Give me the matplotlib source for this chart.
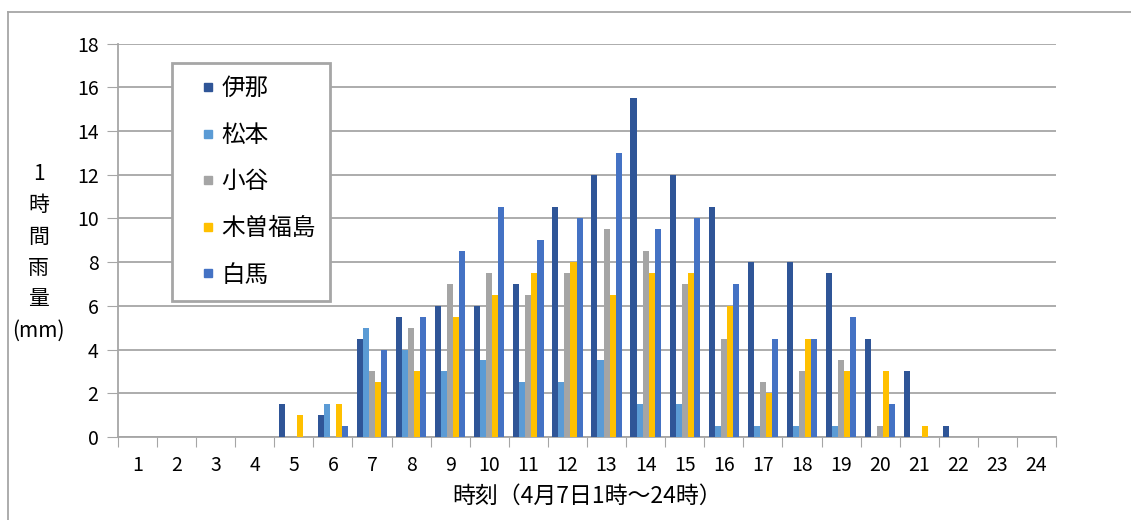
import numpy as np
import matplotlib.pyplot as plt
from matplotlib.lines import Line2D

plt.rcParams['font.family'] = ['Noto Sans CJK JP', 'DejaVu Sans']

# 時刻 1..24
horas = [str(h) for h in range(1, 25)]

ina = [0, 0, 0, 0, 1.5, 1.0, 4.5, 5.5, 6.0, 6.0, 7.0, 10.5,
       12.0, 15.5, 12.0, 10.5, 8.0, 8.0, 7.5, 4.5, 3.0, 0.5, 0, 0]
matsumoto = [0, 0, 0, 0, 0, 1.5, 5.0, 4.0, 3.0, 3.5, 2.5, 2.5,
             3.5, 1.5, 1.5, 0.5, 0.5, 0.5, 0.5, 0, 0, 0, 0, 0]
otari = [0, 0, 0, 0, 0, 0, 3.0, 5.0, 7.0, 7.5, 6.5, 7.5,
         9.5, 8.5, 7.0, 4.5, 2.5, 3.0, 3.5, 0.5, 0, 0, 0, 0]
kiso = [0, 0, 0, 0, 1.0, 1.5, 2.5, 3.0, 5.5, 6.5, 7.5, 8.0,
        6.5, 7.5, 7.5, 6.0, 2.0, 4.5, 3.0, 3.0, 0.5, 0, 0, 0]
hakuba = [0, 0, 0, 0, 0, 0.5, 4.0, 5.5, 8.5, 10.5, 9.0, 10.0,
          13.0, 9.5, 10.0, 7.0, 4.5, 4.5, 5.5, 1.5, 0, 0, 0, 0]

series = [ina, matsumoto, otari, kiso, hakuba]
nombres = ['伊那', '松本', '小谷', '木曽福島', '白馬']
colores = ['#2F5597', '#5B9BD5', '#A5A5A5', '#FFC000', '#4472C4']
gris = '#A6A6A6'

fig = plt.figure(figsize=(11.31, 5.2), dpi=100)
ax = fig.add_axes([0.1043, 0.1596, 0.8294, 0.7567])

x = np.arange(len(horas))
w = 0.155
for i in range(len(series)):
    ax.bar(x + (i - 2) * w, series[i], w, color=colores[i], zorder=3)

ax.set_xlim(-0.5, 23.5)
ax.set_ylim(0, 18)
ax.set_yticks(np.arange(0, 19, 2))
ax.tick_params(axis='y', labelsize=14, length=8, color=gris, pad=6)
ax.set_xticks(np.arange(-0.5, 24, 1))
ax.set_xticklabels([])
ax.set_xticks(x, minor=True)
ax.set_xticklabels(horas, minor=True)
ax.tick_params(axis='x', which='major', length=7, color=gris)
ax.tick_params(axis='x', which='minor', length=0, labelsize=14, pad=13)
ax.grid(axis='y', color=gris, linewidth=1.3, zorder=0)
for s in ['top', 'right']:
    ax.spines[s].set_visible(False)
for s in ['left', 'bottom']:
    ax.spines[s].set_color(gris)
    ax.spines[s].set_linewidth(1.3)

ax.set_xlabel('時刻（4月7日1時～24時）', fontsize=16.5, labelpad=6)
fig.text(0.034, 0.515, '1\n時\n間\n雨\n量\n(mm)', ha='center', va='center',
         fontsize=15, linespacing=1.55)

handles = [Line2D([], [], marker='s', linestyle='none', markersize=6,
                  markerfacecolor=c, markeredgecolor=c) for c in colores]
leg = ax.legend(handles, nombres, loc='upper left',
                bbox_to_anchor=(172 / 1131, 1 - 63 / 520),
                bbox_transform=fig.transFigure, fontsize=17,
                handlelength=1.89, handletextpad=-0.39, labelspacing=1.0,
                borderpad=0.6, borderaxespad=0, fancybox=False, framealpha=1)
leg.get_frame().set_edgecolor(gris)
leg.get_frame().set_linewidth(2)

# marco exterior
fig.add_artist(Line2D([8 / 1131, 1], [1 - 12 / 520, 1 - 12 / 520],
                      transform=fig.transFigure, color=gris, lw=1.3))
fig.add_artist(Line2D([8 / 1131, 8 / 1131], [0, 1 - 12 / 520],
                      transform=fig.transFigure, color=gris, lw=1.3))

plt.savefig('out.png', dpi=100)
